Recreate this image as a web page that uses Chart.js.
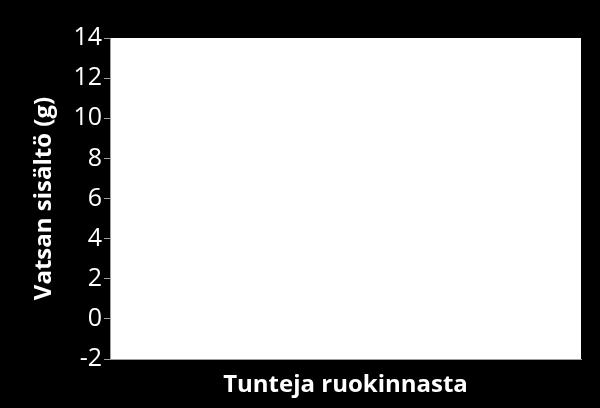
<!DOCTYPE html>
<html>
<head>
<meta charset="utf-8">
<script src="https://cdn.jsdelivr.net/npm/chart.js@4"></script>
<style>
  html, body { margin: 0; padding: 0; background: #000; }
  #wrap { width: 600px; height: 408px; }
</style>
</head>
<body>
<div id="wrap"><canvas id="chartCanvas"></canvas></div>
<script>
// The chart in the picture is empty: no points are drawn
const hours = [];
const stomachContent = [];
const yTicks = [-2, 0, 2, 4, 6, 8, 10, 12, 14];

const points = hours.map(function(h, i) { return { x: h, y: stomachContent[i] }; });

// Black page, white plot area
const backdrop = {
    id: 'backdrop',
    beforeDraw: function(chart) {
        const ctx = chart.ctx;
        const a = chart.chartArea;
        ctx.save();
        ctx.fillStyle = '#000';
        ctx.fillRect(0, 0, chart.width, chart.height);
        ctx.fillStyle = '#fff';
        ctx.fillRect(a.left, a.top, a.right - a.left, a.bottom - a.top);
        ctx.restore();
    }
};

const ctx = document.getElementById('chartCanvas').getContext('2d');
new Chart(ctx, {
    type: 'scatter',
    data: {
        datasets: [{
            label: 'Vatsan sisältö',
            data: points,
            borderColor: '#000',
            backgroundColor: '#000'
        }]
    },
    options: {
        responsive: true,
        maintainAspectRatio: false,
        animation: false,
        layout: { padding: { top: 38, right: 19, left: 30, bottom: 0 } },
        plugins: {
            legend: { display: false },
            tooltip: { enabled: false }
        },
        scales: {
            x: {
                type: 'linear',
                min: 0,
                max: 1,
                ticks: { display: false },
                grid: { display: false },
                border: { display: true, color: '#a0a0a0', width: 1 },
                title: {
                    display: true,
                    text: 'Tunteja ruokinnasta',
                    color: '#fff',
                    font: { family: 'Open Sans', size: 24, weight: 'bold' },
                    padding: { top: 0, bottom: 8 }
                },
                afterFit: function(scale) { scale.height = 49; }
            },
            y: {
                min: yTicks[0],
                max: yTicks[yTicks.length - 1],
                afterBuildTicks: function(scale) {
                    scale.ticks = yTicks.map(function(v) { return { value: v }; });
                },
                ticks: {
                    color: '#fff',
                    padding: 2,
                    font: { family: 'Open Sans', size: 25 }
                },
                grid: {
                    drawOnChartArea: false,
                    tickLength: 6,
                    color: '#a0a0a0'
                },
                border: { display: true, color: '#a0a0a0', width: 1 },
                title: {
                    display: true,
                    text: 'Vatsan sisältö (g)',
                    color: '#fff',
                    font: { family: 'Open Sans', size: 24, weight: 'bold' },
                    padding: { top: 0, bottom: 0 }
                },
                afterFit: function(scale) { scale.width = 80; }
            }
        }
    },
    plugins: [backdrop]
});
</script>
</body>
</html>
